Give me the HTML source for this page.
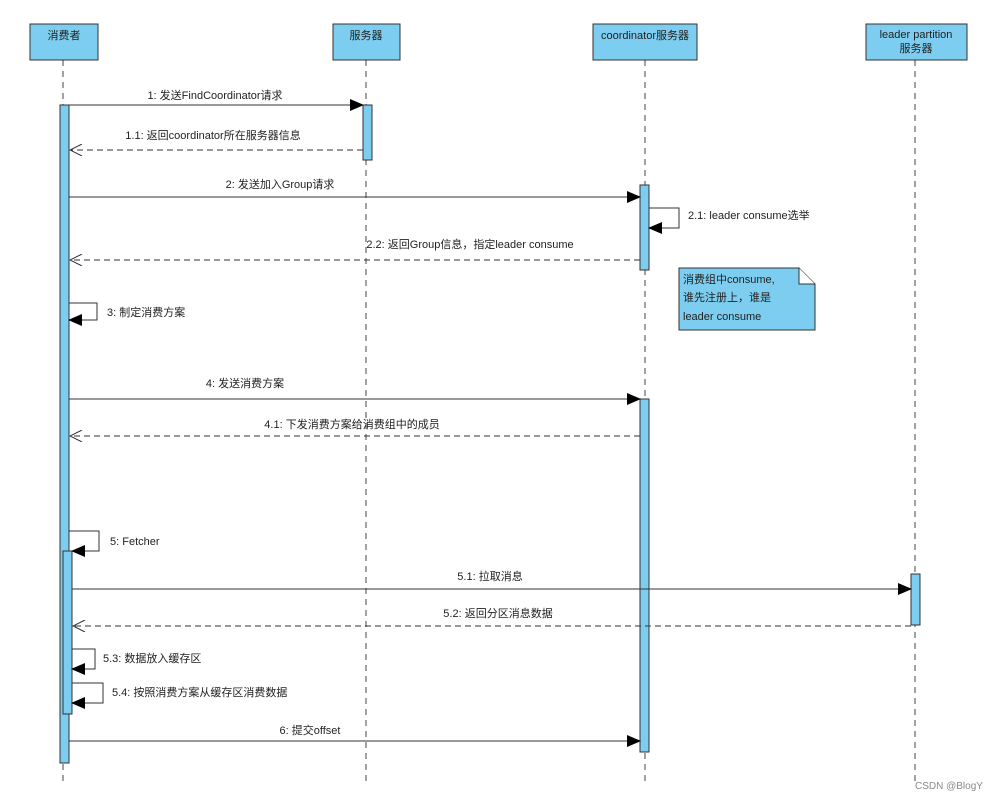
<!DOCTYPE html>
<html><head><meta charset="utf-8"><style>
body{margin:0;background:#fff}
svg text{font-family:"Liberation Sans","Noto Sans CJK SC",sans-serif;font-size:11px;fill:#222}
</style></head><body>
<svg width="1000" height="800" xmlns="http://www.w3.org/2000/svg">
<defs>
<marker id="f" markerWidth="14" markerHeight="12" refX="13" refY="6" orient="auto" markerUnits="userSpaceOnUse"><path d="M0,0 L14,6 L0,12 z" fill="#000"/></marker>
<marker id="o" markerWidth="14" markerHeight="12" refX="13" refY="6" orient="auto" markerUnits="userSpaceOnUse"><path d="M1,0 L13,6 L1,12" fill="none" stroke="#333" stroke-width="1"/></marker>
</defs>
<g stroke="#444" stroke-dasharray="6,5" stroke-width="1">
<line x1="63" y1="60" x2="63" y2="785"/>
<line x1="366" y1="60" x2="366" y2="785"/>
<line x1="645" y1="60" x2="645" y2="785"/>
<line x1="915" y1="60" x2="915" y2="785"/>
</g>
<g fill="#7ccdef" stroke="#333" stroke-width="1">
<rect x="30" y="24" width="68" height="36"/>
<rect x="333" y="24" width="67" height="36"/>
<rect x="593" y="24" width="104" height="36"/>
<rect x="866" y="24" width="101" height="36"/>
</g>
<text x="64" y="39" text-anchor="middle">消费者</text>
<text x="366" y="39" text-anchor="middle">服务器</text>
<text x="645" y="39" text-anchor="middle">coordinator服务器</text>
<text x="916" y="38" text-anchor="middle">leader partition</text>
<text x="916" y="52" text-anchor="middle">服务器</text>
<g fill="#7ccdef" stroke="#333" stroke-width="1">
<rect x="60" y="105" width="9" height="658"/>
<rect x="363" y="105" width="9" height="55"/>
<rect x="640" y="185" width="9" height="85"/>
<rect x="640" y="399" width="9" height="353"/>
<rect x="63" y="551" width="9" height="163"/>
<rect x="911" y="574" width="9" height="51"/>
</g>
<g stroke="#333" stroke-width="1" fill="none">
<line x1="69" y1="105" x2="363" y2="105" marker-end="url(#f)"/>
<line x1="363" y1="150" x2="70" y2="150" stroke-dasharray="6,4" marker-end="url(#o)"/>
<line x1="69" y1="197" x2="640" y2="197" marker-end="url(#f)"/>
<polyline points="649,208 679,208 679,228 649,228" marker-end="url(#f)"/>
<line x1="640" y1="260" x2="70" y2="260" stroke-dasharray="6,4" marker-end="url(#o)"/>
<polyline points="69,303 97,303 97,320 69,320" marker-end="url(#f)"/>
<line x1="69" y1="399" x2="640" y2="399" marker-end="url(#f)"/>
<line x1="640" y1="436" x2="70" y2="436" stroke-dasharray="6,4" marker-end="url(#o)"/>
<polyline points="69,531 99,531 99,551 72,551" marker-end="url(#f)"/>
<line x1="72" y1="589" x2="911" y2="589" marker-end="url(#f)"/>
<line x1="911" y1="626" x2="73" y2="626" stroke-dasharray="6,4" marker-end="url(#o)"/>
<polyline points="72,649 95,649 95,669 72,669" marker-end="url(#f)"/>
<polyline points="72,683 103,683 103,703 72,703" marker-end="url(#f)"/>
<line x1="69" y1="741" x2="640" y2="741" marker-end="url(#f)"/>
</g>
<path d="M679,268 L799,268 L815,284 L815,330 L679,330 z" fill="#7ccdef" stroke="#333"/>
<path d="M799,268 L799,284 L815,284" fill="#fff" stroke="#333"/>
<text x="683" y="283">消费组中consume,</text>
<text x="683" y="301">谁先注册上，谁是</text>
<text x="683" y="320">leader consume</text>
<text x="215" y="99" text-anchor="middle">1: 发送FindCoordinator请求</text>
<text x="213" y="139" text-anchor="middle">1.1: 返回coordinator所在服务器信息</text>
<text x="280" y="188" text-anchor="middle">2: 发送加入Group请求</text>
<text x="688" y="219">2.1: leader consume选举</text>
<text x="470" y="248" text-anchor="middle">2.2: 返回Group信息，指定leader consume</text>
<text x="107" y="316">3: 制定消费方案</text>
<text x="245" y="387" text-anchor="middle">4: 发送消费方案</text>
<text x="352" y="428" text-anchor="middle">4.1: 下发消费方案给消费组中的成员</text>
<text x="110" y="545">5: Fetcher</text>
<text x="490" y="580" text-anchor="middle">5.1: 拉取消息</text>
<text x="498" y="617" text-anchor="middle">5.2: 返回分区消息数据</text>
<text x="103" y="662">5.3: 数据放入缓存区</text>
<text x="112" y="696">5.4: 按照消费方案从缓存区消费数据</text>
<text x="310" y="734" text-anchor="middle">6: 提交offset</text>
<text x="915" y="789" style="fill:#888;font-size:10px">CSDN @BlogY</text>
</svg>
</body></html>
